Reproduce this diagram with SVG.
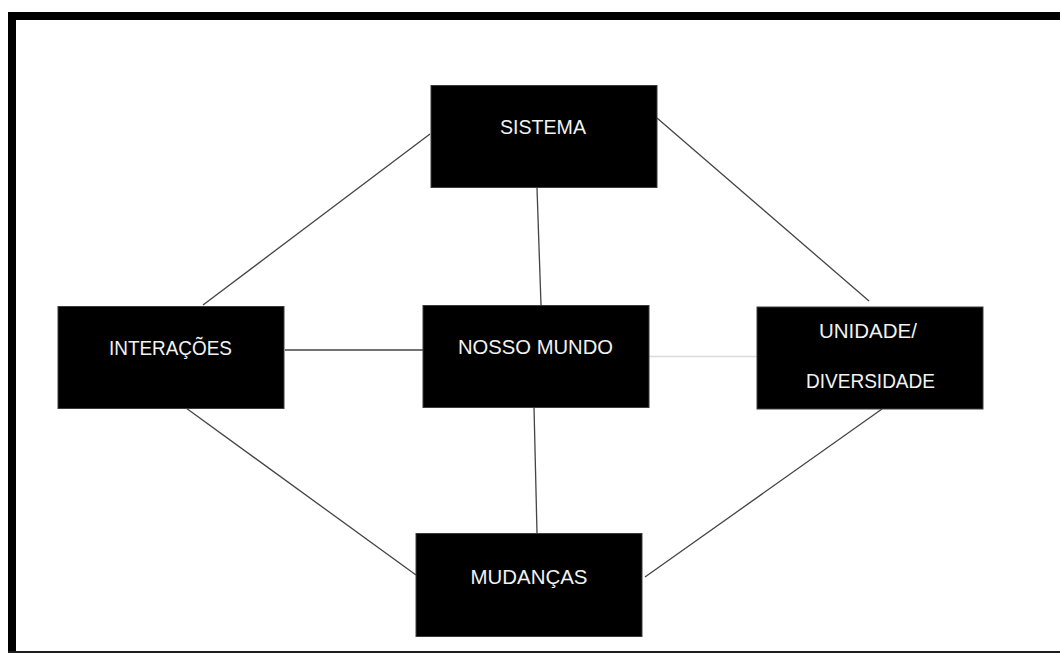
<svg xmlns="http://www.w3.org/2000/svg" width="1060" height="653" viewBox="0 0 1060 653">
<style>
.box{fill:#000;stroke:#3c3c3c;stroke-width:1}
.lbl{font-family:"Liberation Sans",Arial,sans-serif;font-size:21px;fill:#f2f2f2;text-anchor:middle}
.conn line{stroke:#444;stroke-width:1.3}
</style>
<rect width="1060" height="653" fill="#fff"/>
<g id="frame">
<rect x="8" y="12" width="1052" height="8" fill="#000"/>
<rect x="8" y="12" width="8" height="641" fill="#000"/>
<rect x="8" y="651" width="1052" height="2" fill="#1e1e1e"/>
</g>
<g id="connectors" class="conn">
<line x1="430" y1="134" x2="203" y2="305"/>
<line x1="657" y1="118" x2="869" y2="301"/>
<line x1="537" y1="188" x2="541" y2="305"/>
<line x1="285" y1="350" x2="423" y2="350"/>
<line x1="649" y1="356.5" x2="757" y2="356.5" style="stroke:#dcdcdc"/>
<line x1="534" y1="407" x2="537" y2="533"/>
<line x1="186" y1="408" x2="416" y2="575"/>
<line x1="882" y1="409" x2="645" y2="577"/>
</g>
<g id="sistema">
<rect class="box" x="431" y="85.5" width="226" height="102"/>
<text class="lbl" x="543" y="134" textLength="86" lengthAdjust="spacingAndGlyphs">SISTEMA</text>
</g>
<g id="nosso-mundo">
<rect class="box" x="423" y="305.5" width="226" height="102"/>
<text class="lbl" x="535.5" y="354" textLength="155" lengthAdjust="spacingAndGlyphs">NOSSO MUNDO</text>
</g>
<g id="interacoes">
<rect class="box" x="58" y="306.5" width="226" height="102"/>
<text class="lbl" x="170.5" y="355" textLength="123" lengthAdjust="spacingAndGlyphs">INTERAÇÕES</text>
</g>
<g id="unidade-diversidade">
<rect class="box" x="757" y="307" width="226" height="102"/>
<text class="lbl" x="868" y="338" textLength="98" lengthAdjust="spacingAndGlyphs">UNIDADE/</text>
<text class="lbl" x="870.5" y="388" textLength="129" lengthAdjust="spacingAndGlyphs">DIVERSIDADE</text>
</g>
<g id="mudancas">
<rect class="box" x="416" y="533.5" width="226" height="103"/>
<text class="lbl" x="529" y="584" textLength="117" lengthAdjust="spacingAndGlyphs">MUDANÇAS</text>
</g>
</svg>
